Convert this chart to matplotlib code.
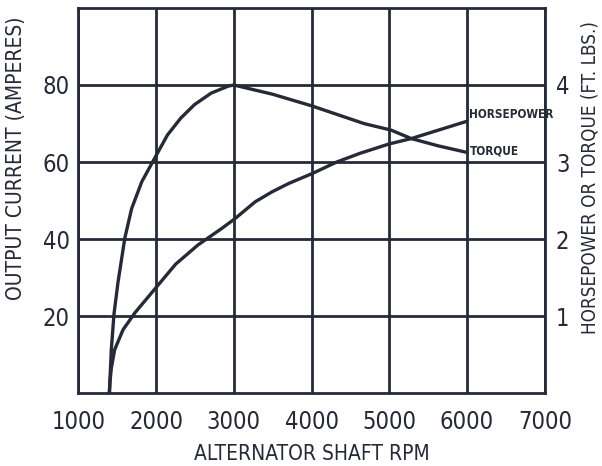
import matplotlib.pyplot as plt

# Curves (rpm, left axis amperes)
torque_rpm = [1400, 1425, 1459, 1511, 1599, 1686, 1817, 1969, 2146, 2318, 2494, 2710, 2928, 3000,
              3500, 4000, 4673, 5022, 5283, 5631, 6000]
torque_amps = [0, 11.3, 20.5, 28.8, 40.3, 47.9, 54.9, 60.5, 67.0, 71.4, 74.9, 77.9, 79.7, 80,
               77.6, 74.6, 70.0, 68.3, 66.1, 64.2, 62.5]

hp_rpm = [1400, 1408, 1425, 1468, 1576, 1729, 1982, 2252, 2540, 2840, 3014, 3276, 3494, 3712,
          4017, 4322, 4627, 4997, 5283, 6000]
hp_amps = [0, 3.0, 6.5, 11.3, 16.5, 20.9, 27.0, 33.5, 38.5, 42.7, 45.3, 49.7, 52.3, 54.5,
           57.1, 60.0, 62.3, 64.7, 66.1, 70.6]

x_ticks = [1000, 2000, 3000, 4000, 5000, 6000, 7000]
left_ticks = [20, 40, 60, 80]
right_ticks = [1, 2, 3, 4]

ink = '#262a36'
plt.rcParams['font.family'] = ['DejaVu Sans']
plt.rcParams['font.stretch'] = 'condensed'

fig = plt.figure(figsize=(6.02, 4.66), dpi=100)
ax = fig.add_axes([0.13, 0.156, 0.775, 0.827])

ax.plot(torque_rpm, torque_amps, color=ink, lw=2.4, solid_capstyle='round')
ax.plot(hp_rpm, hp_amps, color=ink, lw=2.4, solid_capstyle='round')

ax.set_xlim(1000, 7000)
ax.set_ylim(0, 100)
ax.set_xticks(x_ticks)
ax.set_yticks(left_ticks)
ax.grid(True, color=ink, lw=2)
ax.tick_params(length=0, labelsize=17, colors=ink)
ax.tick_params(axis='x', pad=12)
ax.tick_params(axis='y', pad=6)
for s in ax.spines.values():
    s.set_color(ink)
    s.set_linewidth(2)

ax.set_xlabel('ALTERNATOR SHAFT RPM', fontsize=15, color=ink, labelpad=7)
ax.set_ylabel('OUTPUT CURRENT (AMPERES)', fontsize=15, color=ink)
ax.yaxis.set_label_coords(-0.112, 0.61)

ax2 = ax.twinx()
ax2.set_ylim(0, 5)
ax2.set_yticks(right_ticks)
ax2.tick_params(length=0, labelsize=17, colors=ink, pad=8)
for s in ax2.spines.values():
    s.set_visible(False)
ax2.set_ylabel('HORSEPOWER OR TORQUE (FT. LBS.)', fontsize=13.5, color=ink, rotation=90)
ax2.yaxis.set_label_coords(1.077, 0.56)

ax.text(6030, 72.3, 'HORSEPOWER', fontsize=8.5, fontweight='bold', color=ink, va='center')
ax.text(6030, 63.0, 'TORQUE', fontsize=8.5, fontweight='bold', color=ink, va='center')

fig.savefig('out.png', dpi=100)
